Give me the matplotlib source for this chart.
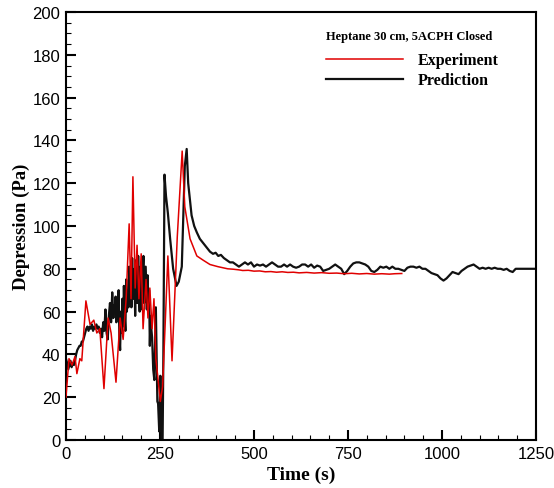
import matplotlib
matplotlib.use("Agg")
import matplotlib.pyplot as plt
from matplotlib.ticker import MultipleLocator

# Experiment (red)
exp_t = [0, 8, 16, 24, 29, 37, 42, 53, 64, 74, 82, 90, 101, 112, 120, 133, 144, 152,
         160, 168, 173, 178, 184, 189, 194, 200, 205, 213, 218, 223, 229, 234, 239,
         245, 251, 257, 264, 271, 282, 296, 309, 316, 330, 348, 365, 383, 404, 430,
         445, 460, 470, 485, 500, 515, 530, 545, 560, 575, 590, 605, 620, 640, 660,
         680, 700, 720, 740, 760, 780, 800, 820, 840, 860, 875, 893]
exp_v = [20, 38, 35, 39, 31, 38, 37, 65, 54, 56, 50, 52, 24, 57, 50, 27, 57, 47,
         66, 101, 66, 123, 71, 91, 66, 87, 52, 75, 57, 71, 52, 66, 38,
         28, 18, 25, 55, 86, 37, 95, 135, 109, 94, 86, 84, 82, 81, 80,
         79.8, 79.5, 79.2, 79.3, 78.9, 79, 78.6, 78.7, 78.4, 78.6, 78.3, 78.4, 78.1, 78.3, 78,
         78.2, 77.9, 78, 77.7, 77.9, 77.6, 77.8, 77.5, 77.7, 77.5, 77.7, 77.8]

# Prediction (black)
pred_t = [0, 3, 6, 9, 12, 15, 18, 21, 24, 27, 30, 33, 36, 39, 42, 45, 48, 51, 54,
          57, 60, 63, 66, 69, 72, 75, 78, 81, 84, 87, 90, 93, 96, 99, 102, 105,
          108, 111, 114, 117, 120, 123, 126, 128, 130, 132, 134, 136, 138, 140,
          142, 144, 146, 148, 150, 152, 154, 156, 158, 160, 162, 164, 166, 168,
          170, 172, 174, 176, 178, 180, 182, 184, 186, 188, 190, 192, 194, 196,
          198, 200, 202, 204, 206, 208, 210, 212, 215, 217, 219, 221, 223, 225,
          227, 229, 232, 235, 237, 239, 241, 243, 245, 248, 251, 254, 257, 259,
          262, 266, 271, 277, 285, 294, 300, 308, 316, 321, 325, 334, 341, 348,
          356, 365, 374, 383, 391, 398, 405, 412, 420, 428, 436, 444, 452, 460,
          468, 476, 484, 492, 500, 508, 516, 524, 532, 540, 548, 556, 564, 572,
          580, 588, 596, 604, 612, 620, 628, 636, 644, 652, 660, 668, 676, 684,
          692, 700, 708, 716, 724, 732, 740, 748, 756, 764, 772, 780, 788, 796,
          804, 812, 820, 828, 836, 844, 852, 860, 868, 876, 884, 892, 900, 908,
          916, 924, 932, 940, 948, 956, 964, 972, 980, 988, 996, 1004, 1012,
          1020, 1028, 1036, 1044, 1052, 1060, 1068, 1076, 1084, 1092, 1100,
          1108, 1116, 1124, 1132, 1140, 1148, 1156, 1164, 1172, 1180, 1188,
          1196, 1204, 1212, 1220, 1228, 1236, 1244, 1250]
pred_v = [38, 36, 33, 35, 37, 34, 36, 35, 37, 40, 42, 43, 44, 44, 46, 46, 48, 50, 52,
          53, 51, 53, 52, 54, 51, 53, 52, 54, 52, 53, 50, 52, 48, 55, 51, 61,
          50, 47, 58, 64, 55, 69, 57, 63, 61, 67, 55, 66, 57, 70,
          48, 42, 60, 50, 66, 53, 72, 58, 51, 75, 60, 70, 62, 81,
          64, 78, 62, 85, 70, 66, 80, 58, 84, 70, 64, 86, 68, 60,
          81, 72, 61, 77, 86, 64, 72, 81, 61, 77, 60, 70, 44, 58,
          52, 48, 33, 28, 46, 62, 40, 18, 17, 4, 30, 0, 0, 40,
          124, 114, 106, 94, 80, 72, 74, 81, 128, 136, 120, 105, 100, 97,
          94, 92, 90, 88, 87, 87.5, 86, 86.5, 85, 84, 83, 83, 82, 81,
          82, 83, 82, 83, 81, 82, 81.5, 82, 81, 82, 83, 82, 81, 81,
          82, 81, 82, 81, 80.5, 81, 82, 82, 81, 82, 80.5, 81.5, 81, 79,
          79.5, 80, 81, 82, 81, 80, 77.5, 79, 81, 82.5, 83, 83, 82.5, 82,
          81, 79, 78.5, 79.5, 81, 80.5, 81, 80, 81, 80, 80, 79.5, 79, 80.5,
          81, 81, 80.5, 81, 80, 80, 79, 78, 77.5, 77, 75.5, 74.5, 75.5,
          77, 78.5, 78, 77.5, 79, 80, 81, 81.5, 82, 81, 80,
          80.5, 80, 80.5, 80, 80.5, 80, 80, 79.5, 80, 79, 78.5,
          80, 80, 80, 80, 80, 80, 80, 80]

legend_title = "Heptane 30 cm, 5ACPH Closed"
series_labels = ["Experiment", "Prediction"]

fig = plt.figure(figsize=(5.54, 4.89), dpi=100)
ax = fig.add_axes([0.1191, 0.0982, 0.8484, 0.8752])

ax.plot(exp_t, exp_v, color="#e00000", lw=1.1, label=series_labels[0], zorder=3)
ax.plot(pred_t, pred_v, color="#111111", lw=1.6, label=series_labels[1], zorder=2)

ax.set_xlim(0, 1250)
ax.set_ylim(0, 200)
ax.xaxis.set_major_locator(MultipleLocator(250))
ax.xaxis.set_minor_locator(MultipleLocator(50))
ax.yaxis.set_major_locator(MultipleLocator(20))
ax.yaxis.set_minor_locator(MultipleLocator(5))
ax.tick_params(which="both", direction="in", top=False, right=False)
ax.tick_params(which="major", length=7, width=1.5, labelsize=12, pad=4)
ax.tick_params(which="minor", length=3.5, width=0.8)
for lab in ax.get_xticklabels() + ax.get_yticklabels():
    lab.set_fontfamily("Liberation Sans")
for s in ax.spines.values():
    s.set_linewidth(1.5)

serif = "Liberation Serif"
ax.set_xlabel("Time (s)", fontfamily=serif, fontweight="bold", fontsize=14, labelpad=4)
ax.set_ylabel("Depression (Pa)", fontfamily=serif, fontweight="bold", fontsize=13.5, labelpad=2)

leg = ax.legend(loc="upper left", bbox_to_anchor=(0.554, 0.957), frameon=False,
                title=legend_title, alignment="left",
                prop={"family": serif, "weight": "bold", "size": 11.5},
                handlelength=4.8, handletextpad=0.9, labelspacing=0.25,
                borderaxespad=0, borderpad=0)
leg.get_title().set_fontfamily(serif)
leg.get_title().set_fontweight("bold")
leg.get_title().set_fontsize(9)
leg._legend_box.sep = 7

fig.savefig("out.png", dpi=100)
